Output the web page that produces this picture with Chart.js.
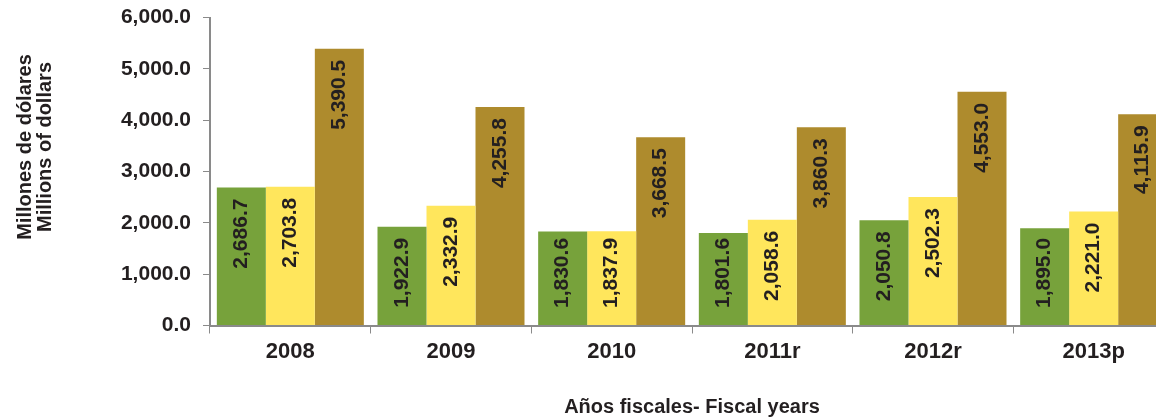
<!DOCTYPE html>
<html>
<head>
<meta charset="utf-8">
<script src="https://cdn.jsdelivr.net/npm/chart.js@4.4.1/dist/chart.umd.min.js"></script>
<style>
  html, body { margin: 0; padding: 0; background: #fff; overflow: hidden; }
  #wrap { width: 1156px; height: 419px; overflow: hidden; }
</style>
</head>
<body>
<div id="wrap"><canvas id="fiscal-chart" width="1174" height="419"></canvas></div>
<script>
// data
const years = ["2008", "2009", "2010", "2011r", "2012r", "2013p"];
const seriesGreen = [2686.7, 1922.9, 1830.6, 1801.6, 2050.8, 1895.0];
const seriesYellow = [2703.8, 2332.9, 1837.9, 2058.6, 2502.3, 2221.0];
const seriesBrown = [5390.5, 4255.8, 3668.5, 3860.3, 4553.0, 4115.9];
const yTitle = ["Millones de dólares", "Millions of dollars"];
const xTitle = "Años fiscales- Fiscal years";

const textColor = "#231f20";
const axisColor = "#8a8a8a";
const fontName = "'Liberation Sans', Arial, sans-serif";

const fmt = v => v.toLocaleString("en-US", { minimumFractionDigits: 1, maximumFractionDigits: 1 });

// value labels written upward inside the top of each bar
const barLabels = {
  id: "barLabels",
  afterDatasetsDraw(chart) {
    const ctx = chart.ctx;
    ctx.save();
    ctx.font = "bold 21px " + fontName;
    ctx.fillStyle = textColor;
    ctx.textAlign = "right";
    ctx.textBaseline = "middle";
    chart.data.datasets.forEach((ds, i) => {
      chart.getDatasetMeta(i).data.forEach((bar, j) => {
        const txt = fmt(ds.data[j]);
        const w = ctx.measureText(txt).width;
        const y = Math.min(bar.y + 11, bar.base - 17 - w);
        ctx.save();
        ctx.translate(bar.x, y);
        ctx.rotate(-Math.PI / 2);
        ctx.fillText(txt, 0, 0);
        ctx.restore();
      });
    });
    ctx.restore();
  }
};

// y axis title, two lines, placed like the original
const yAxisTitle = {
  id: "yAxisTitle",
  afterDraw(chart) {
    const ctx = chart.ctx;
    ctx.save();
    ctx.font = "bold 20px " + fontName;
    ctx.fillStyle = textColor;
    ctx.textAlign = "center";
    ctx.textBaseline = "middle";
    yTitle.forEach((line, k) => {
      ctx.save();
      ctx.translate(25 + k * 20.5, 147);
      ctx.rotate(-Math.PI / 2);
      ctx.fillText(line, 0, 0);
      ctx.restore();
    });
    ctx.restore();
  }
};

const fiscalCanvas = document.getElementById("fiscal-chart");

const fiscalData = {
  labels: years,
  datasets: [
    { data: seriesGreen, backgroundColor: "#77a23b" },
    { data: seriesYellow, backgroundColor: "#ffe65c" },
    { data: seriesBrown, backgroundColor: "#ae8b2d" }
  ]
};

const fiscalOptions = {
  responsive: false,
  animation: false,
  layout: { padding: { top: 17.5, right: 0, bottom: 0, left: 0 } },
  datasets: {
    bar: { categoryPercentage: 0.915, barPercentage: 1, borderWidth: 0 }
  },
  plugins: {
    legend: { display: false },
    tooltip: { enabled: false }
  },
  scales: {
    x: {
      grid: { offset: true, drawOnChartArea: false, drawTicks: true, tickLength: 8, color: axisColor },
      border: { display: true, color: axisColor, width: 2 },
      ticks: { color: textColor, font: { family: fontName, size: 22, weight: "bold" }, padding: 5 },
      title: {
        display: true,
        text: xTitle,
        color: textColor,
        font: { family: fontName, size: 20, weight: "bold" },
        padding: { top: 0, bottom: 0 }
      },
      afterFit: s => { s.height = 93.5; }
    },
    y: {
      min: 0,
      max: 6000,
      grid: { drawOnChartArea: false, drawTicks: true, tickLength: 7, color: axisColor },
      border: { display: true, color: axisColor, width: 2 },
      ticks: {
        stepSize: 1000,
        color: textColor,
        padding: 12,
        font: { family: fontName, size: 21, weight: "bold" },
        callback: v => fmt(v)
      },
      afterFit: s => {
        s.width = 210;
        s.paddingTop = 0;
        s.paddingBottom = 0;
      }
    }
  }
};

let fiscalChart = new Chart(fiscalCanvas, {
  type: "bar",
  data: fiscalData,
  options: fiscalOptions,
  plugins: [barLabels, yAxisTitle]
});
</script>
</body>
</html>
